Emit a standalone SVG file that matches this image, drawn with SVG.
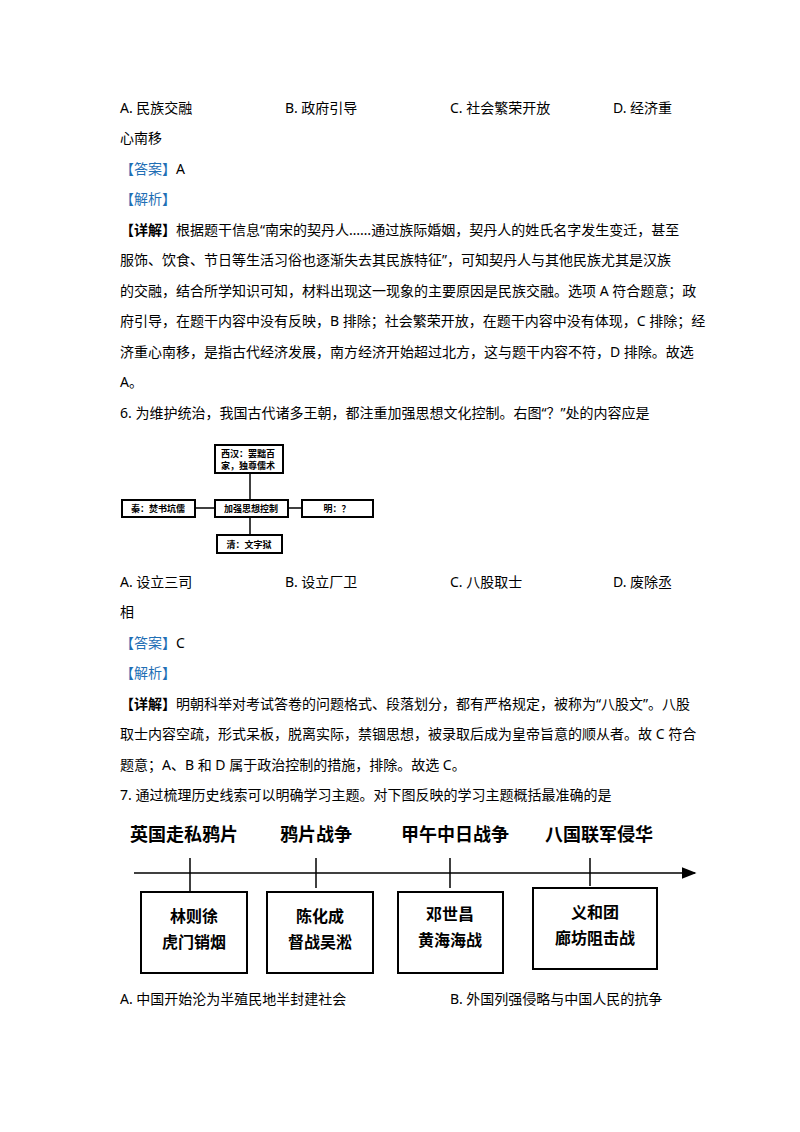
<svg xmlns="http://www.w3.org/2000/svg" width="800" height="1132" viewBox="0 0 800 1132">
<style>
.t{font-family:"Noto Sans","Noto Sans CJK SC",sans-serif;font-size:14px;fill:#000}
.b{fill:#1f6fb5}
.bx{fill:#fff;stroke:#000;stroke-width:2}
.d{font-family:"Noto Sans CJK SC",serif;font-size:9px;font-weight:bold;fill:#000}
.e{font-family:"Noto Sans CJK SC",serif;font-size:18px;font-weight:bold;fill:#000}
.f{font-family:"Noto Sans CJK SC",serif;font-size:16px;font-weight:bold;fill:#000}
.ln{stroke:#000;stroke-width:1.5;fill:none}
</style>
<defs><marker id="ar" markerWidth="10" markerHeight="8" refX="9" refY="4" orient="auto"><path d="M0,0 L10,4 L0,8 z" fill="#000"/></marker></defs>
<rect width="800" height="1132" fill="#fff"/>
<g class="t">
<text x="120" y="113">A. 民族交融</text>
<text x="285" y="113">B. 政府引导</text>
<text x="450" y="113">C. 社会繁荣开放</text>
<text x="613" y="113">D. 经济重</text>
<text x="120" y="143">心南移</text>
<text x="120" y="174"><tspan class="b">【答案】</tspan>A</text>
<text x="120" y="204" class="b">【解析】</text>
<text x="120" y="235"><tspan font-weight="bold">【详解】</tspan>根据题干信息“南宋的契丹人……通过族际婚姻，契丹人的姓氏名字发生变迁，甚至</text>
<text x="120" y="265">服饰、饮食、节日等生活习俗也逐渐失去其民族特征”，可知契丹人与其他民族尤其是汉族</text>
<text x="120" y="296">的交融，结合所学知识可知，材料出现这一现象的主要原因是民族交融。选项 A 符合题意；政</text>
<text x="120" y="326">府引导，在题干内容中没有反映，B 排除；社会繁荣开放，在题干内容中没有体现，C 排除；经</text>
<text x="120" y="357">济重心南移，是指古代经济发展，南方经济开始超过北方，这与题干内容不符，D 排除。故选</text>
<text x="120" y="387">A。</text>
<text x="120" y="418">6. 为维护统治，我国古代诸多王朝，都注重加强思想文化控制。右图“？”处的内容应是</text>
<text x="120" y="587">A. 设立三司</text>
<text x="285" y="587">B. 设立厂卫</text>
<text x="450" y="587">C. 八股取士</text>
<text x="613" y="587">D. 废除丞</text>
<text x="120" y="617">相</text>
<text x="120" y="648"><tspan class="b">【答案】</tspan>C</text>
<text x="120" y="678" class="b">【解析】</text>
<text x="120" y="709"><tspan font-weight="bold">【详解】</tspan>明朝科举对考试答卷的问题格式、段落划分，都有严格规定，被称为“八股文”。八股</text>
<text x="120" y="739">取士内容空疏，形式呆板，脱离实际，禁锢思想，被录取后成为皇帝旨意的顺从者。故 C 符合</text>
<text x="120" y="770">题意；A、B 和 D 属于政治控制的措施，排除。故选 C。</text>
<text x="120" y="800">7. 通过梳理历史线索可以明确学习主题。对下图反映的学习主题概括最准确的是</text>
<text x="120" y="1004">A. 中国开始沦为半殖民地半封建社会</text>
<text x="450" y="1004">B. 外国列强侵略与中国人民的抗争</text>
</g>
<g id="connectors1">
<line class="ln" x1="250" y1="473" x2="250" y2="500"/>
<line class="ln" x1="250" y1="517" x2="250" y2="535"/>
<line class="ln" x1="195" y1="508" x2="215" y2="508"/>
<line class="ln" x1="288" y1="508" x2="302" y2="508"/>
</g>
<g id="n-xihan"><rect class="bx" x="215" y="445" width="68" height="28"/><text class="d" x="221" y="457">西汉：罢黜百</text><text class="d" x="221" y="469">家，独尊儒术</text></g>
<g id="n-center"><rect class="bx" x="215" y="500" width="73" height="17"/><text class="d" x="251" y="512" text-anchor="middle">加强思想控制</text></g>
<g id="n-qin"><rect class="bx" x="122" y="500" width="73" height="17"/><text class="d" x="158" y="512" text-anchor="middle">秦：焚书坑儒</text></g>
<g id="n-ming"><rect class="bx" x="302" y="500" width="71" height="17"/><text class="d" x="337" y="512" text-anchor="middle">明：？</text></g>
<g id="n-qing"><rect class="bx" x="217" y="535" width="65" height="18"/><text class="d" x="249" y="548" text-anchor="middle">清：文字狱</text></g>
<g id="connectors2">
<line class="ln" x1="134" y1="873" x2="695" y2="873" marker-end="url(#ar)"/>
<line class="ln" x1="190" y1="858" x2="190" y2="892"/>
<line class="ln" x1="316" y1="858" x2="316" y2="888"/>
<line class="ln" x1="450" y1="858" x2="450" y2="888"/>
<line class="ln" x1="590" y1="858" x2="590" y2="886"/>
</g>
<g id="labels" class="e" text-anchor="middle">
<text x="184" y="841">英国走私鸦片</text>
<text x="316" y="841">鸦片战争</text>
<text x="455" y="841">甲午中日战争</text>
<text x="599" y="841">八国联军侵华</text>
</g>
<g id="b1" class="f" text-anchor="middle"><rect class="bx" x="141" y="892" width="106" height="81"/><text x="194" y="922">林则徐</text><text x="194" y="948">虎门销烟</text></g>
<g id="b2" class="f" text-anchor="middle"><rect class="bx" x="267" y="892" width="106" height="81"/><text x="320" y="922">陈化成</text><text x="320" y="948">督战吴淞</text></g>
<g id="b3" class="f" text-anchor="middle"><rect class="bx" x="398" y="892" width="105" height="81"/><text x="450" y="920">邓世昌</text><text x="450" y="946">黄海海战</text></g>
<g id="b4" class="f" text-anchor="middle"><rect class="bx" x="533" y="888" width="124" height="81"/><text x="595" y="918">义和团</text><text x="595" y="944">廊坊阻击战</text></g>
</svg>
